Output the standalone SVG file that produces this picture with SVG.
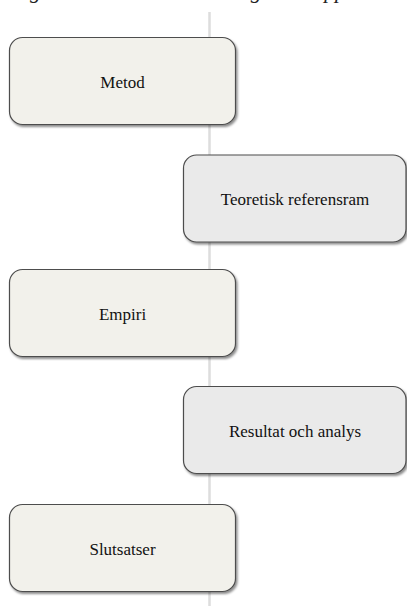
<svg xmlns="http://www.w3.org/2000/svg" width="407" height="606" viewBox="0 0 407 606">
<defs>
<filter id="sh" x="-10%" y="-10%" width="125%" height="130%">
<feDropShadow dx="1.5" dy="2" stdDeviation="1.2" flood-color="#000" flood-opacity="0.45"/>
</filter>
</defs>
<style>
.box{stroke:#4d4d4d;stroke-width:1.2;filter:url(#sh)}
.a{fill:#f2f1eb}
.b{fill:#eaeaea}
.lbl{font-family:"Liberation Serif","Times New Roman",serif;font-size:17px;fill:#111111;text-anchor:middle}
.title{font-family:"Liberation Serif","Times New Roman",serif;font-size:21.5px;font-style:italic;fill:#222}
.axis{stroke:#dddddd;stroke-width:2.5;fill:none}
</style>
<rect width="407" height="606" fill="#ffffff"/>
<text class="title" x="11" y="-2.5">Figur 1. Arbetets röda tråd genom uppsatsen</text>
<g id="connectors">
<line class="axis" x1="209.5" y1="12" x2="209.5" y2="606"/>
</g>
<g id="metod">
<rect class="box a" x="9.5" y="37.5" width="226" height="87" rx="13"/>
<text class="lbl" x="122.5" y="87.5">Metod</text>
</g>
<g id="teoretisk">
<rect class="box b" x="183.5" y="155" width="222.5" height="87" rx="13"/>
<text class="lbl" x="295" y="205">Teoretisk referensram</text>
</g>
<g id="empiri">
<rect class="box a" x="9.5" y="269.5" width="226" height="87" rx="13"/>
<text class="lbl" x="122.5" y="319.5">Empiri</text>
</g>
<g id="resultat">
<rect class="box b" x="183.5" y="386.5" width="222.5" height="87" rx="13"/>
<text class="lbl" x="295" y="436.5">Resultat och analys</text>
</g>
<g id="slutsatser">
<rect class="box a" x="9.5" y="504.5" width="226" height="87" rx="13"/>
<text class="lbl" x="122.5" y="554.5">Slutsatser</text>
</g>
</svg>
